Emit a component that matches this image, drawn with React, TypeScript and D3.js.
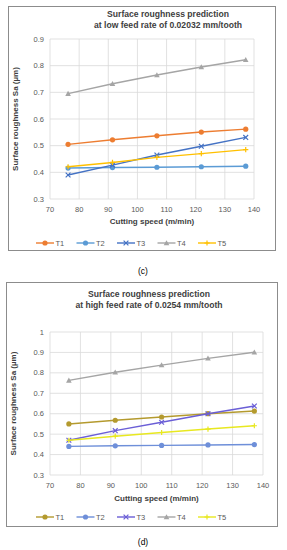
import React from "react";
import * as d3 from "d3";

// cutting speeds (m/min)
const speeds = [76.2, 91.44, 106.68, 121.92, 137.16];
const seriesNames = ["T1", "T2", "T3", "T4", "T5"];

// (c) low feed rate
const lowT1 = [0.505, 0.522, 0.537, 0.551, 0.562];
const lowT2 = [0.416, 0.418, 0.419, 0.421, 0.423];
const lowT3 = [0.39, 0.427, 0.465, 0.498, 0.531];
const lowT4 = [0.695, 0.732, 0.765, 0.795, 0.822];
const lowT5 = [0.421, 0.437, 0.456, 0.47, 0.485];

// (d) high feed rate
const highT1 = [0.55, 0.568, 0.584, 0.6, 0.613];
const highT2 = [0.44, 0.443, 0.445, 0.447, 0.449];
const highT3 = [0.47, 0.517, 0.558, 0.6, 0.638];
const highT4 = [0.763, 0.803, 0.838, 0.871, 0.901];
const highT5 = [0.47, 0.49, 0.508, 0.525, 0.541];

const xTicks = [70, 80, 90, 100, 110, 120, 130, 140];
const lowYTicks = [0.3, 0.4, 0.5, 0.6, 0.7, 0.8, 0.9];
const highYTicks = [0.3, 0.4, 0.5, 0.6, 0.7, 0.8, 0.9, 1];

const lowColors = ["#ED7D31", "#5B9BD5", "#4472C4", "#A5A5A5", "#FFC000"];
const highColors = ["#B49A2E", "#6E8FD9", "#6A5ED6", "#A5A5A5", "#E8E820"];
const markers = ["circle", "circle", "cross", "triangle", "plus"];

const font = "Liberation Sans, Arial, sans-serif";

type PanelProps = {
  frame: { x: number; y: number; w: number; h: number };
  plot: { l: number; r: number; t: number; b: number };
  title: string[];
  titleX: number;
  titleY: number;
  yMax: number;
  yTicks: number[];
  series: number[][];
  colors: string[];
  tickY: number;
  xLabelY: number;
  legendY: number;
  caption: string;
  captionY: number;
};

const Marker = ({ kind, x, y, color }: { kind: string; x: number; y: number; color: string }) => {
  if (kind === "circle") return <circle cx={x} cy={y} r={2.6} fill={color} />;
  if (kind === "triangle") {
    const s = 2.8;
    return <path d={`M${x},${y - s}L${x + s},${y + s * 0.8}L${x - s},${y + s * 0.8}Z`} fill={color} />;
  }
  if (kind === "cross") {
    const s = 2.4;
    return (
      <path d={`M${x - s},${y - s}L${x + s},${y + s}M${x - s},${y + s}L${x + s},${y - s}`} stroke={color} strokeWidth={1.2} />
    );
  }
  const s = 2.6;
  return <path d={`M${x - s},${y}L${x + s},${y}M${x},${y - s}L${x},${y + s}`} stroke={color} strokeWidth={1.2} />;
};

const Panel = (p: PanelProps) => {
  const x = d3.scaleLinear().domain([70, 140]).range([p.plot.l, p.plot.r]);
  const y = d3.scaleLinear().domain([0.3, p.yMax]).range([p.plot.b, p.plot.t]);
  const line = d3
    .line<number>()
    .x((_, i) => x(speeds[i]))
    .y((d) => y(d));
  const midX = (p.plot.l + p.plot.r) / 2;
  const midY = (p.plot.t + p.plot.b) / 2;

  return (
    <g>
      <rect x={p.frame.x} y={p.frame.y} width={p.frame.w} height={p.frame.h} fill="#fff" stroke="#8c8c8c" strokeWidth={1} />
      {p.title.map((t, i) => (
        <text key={i} x={p.titleX} y={p.titleY + i * 11} textAnchor="middle" fontSize={8.6} fontWeight="bold" fill="#404040" fontFamily={font}>
          {t}
        </text>
      ))}
      {/* grid */}
      {p.yTicks.map((t) => (
        <line key={"h" + t} x1={p.plot.l} x2={p.plot.r} y1={y(t)} y2={y(t)} stroke="#d9d9d9" strokeWidth={0.8} />
      ))}
      {xTicks.map((t) => (
        <line key={"v" + t} x1={x(t)} x2={x(t)} y1={p.plot.t} y2={p.plot.b} stroke="#d9d9d9" strokeWidth={0.8} />
      ))}
      {p.yTicks.map((t) => (
        <text key={"yl" + t} x={p.plot.l - 6} y={y(t) + 2.5} textAnchor="end" fontSize={7.5} fill="#595959" fontFamily={font}>
          {t}
        </text>
      ))}
      {xTicks.map((t) => (
        <text key={"xl" + t} x={x(t)} y={p.tickY} textAnchor="middle" fontSize={7.5} fill="#595959" fontFamily={font}>
          {t}
        </text>
      ))}
      <text x={midX} y={p.xLabelY} textAnchor="middle" fontSize={8} fontWeight="bold" fill="#404040" fontFamily={font}>
        Cutting speed (m/min)
      </text>
      <text
        transform={`translate(${p.frame.x + 9},${midY}) rotate(-90)`}
        textAnchor="middle"
        fontSize={8}
        fontWeight="bold"
        fill="#404040"
        fontFamily={font}
      >
        Surface roughness Sa (µm)
      </text>
      {p.series.map((s, si) => (
        <g key={"s" + si}>
          <path d={line(s) || ""} fill="none" stroke={p.colors[si]} strokeWidth={1.4} />
          {s.map((v, i) => (
            <Marker key={i} kind={markers[si]} x={x(speeds[i])} y={y(v)} color={p.colors[si]} />
          ))}
        </g>
      ))}
      {seriesNames.map((n, i) => {
        const lx = 36 + i * 40.5;
        return (
          <g key={"lg" + n}>
            <line x1={lx} x2={lx + 18} y1={p.legendY} y2={p.legendY} stroke={p.colors[i]} strokeWidth={1.4} />
            <Marker kind={markers[i]} x={lx + 9} y={p.legendY} color={p.colors[i]} />
            <text x={lx + 19.5} y={p.legendY + 2.7} fontSize={7.5} fill="#595959" fontFamily={font}>
              {n}
            </text>
          </g>
        );
      })}
      <text x={143} y={p.captionY} textAnchor="middle" fontSize={8.5} fill="#000" fontFamily={font}>
        {p.caption}
      </text>
    </g>
  );
};

export default function App() {
  return (
    <svg width={287} height={550} style={{ position: "absolute", left: 0, top: 0, background: "#fff" }}>
      <Panel
        frame={{ x: 8.5, y: 6.5, w: 267, h: 244 }}
        plot={{ l: 50, r: 254, t: 39, b: 199 }}
        title={["Surface roughness prediction", "at low feed rate of 0.02032 mm/tooth"]}
        titleX={168}
        titleY={17}
        yMax={0.9}
        yTicks={lowYTicks}
        series={[lowT1, lowT2, lowT3, lowT4, lowT5]}
        colors={lowColors}
        tickY={212}
        xLabelY={224}
        legendY={243}
        caption="(c)"
        captionY={274}
      />
      <Panel
        frame={{ x: 6.5, y: 282.5, w: 271, h: 244 }}
        plot={{ l: 50, r: 263, t: 332, b: 475 }}
        title={["Surface roughness prediction", "at high feed rate of 0.0254 mm/tooth"]}
        titleX={149}
        titleY={297}
        yMax={1}
        yTicks={highYTicks}
        series={[highT1, highT2, highT3, highT4, highT5]}
        colors={highColors}
        tickY={488}
        xLabelY={501}
        legendY={517}
        caption="(d)"
        captionY={545}
      />
    </svg>
  );
}
